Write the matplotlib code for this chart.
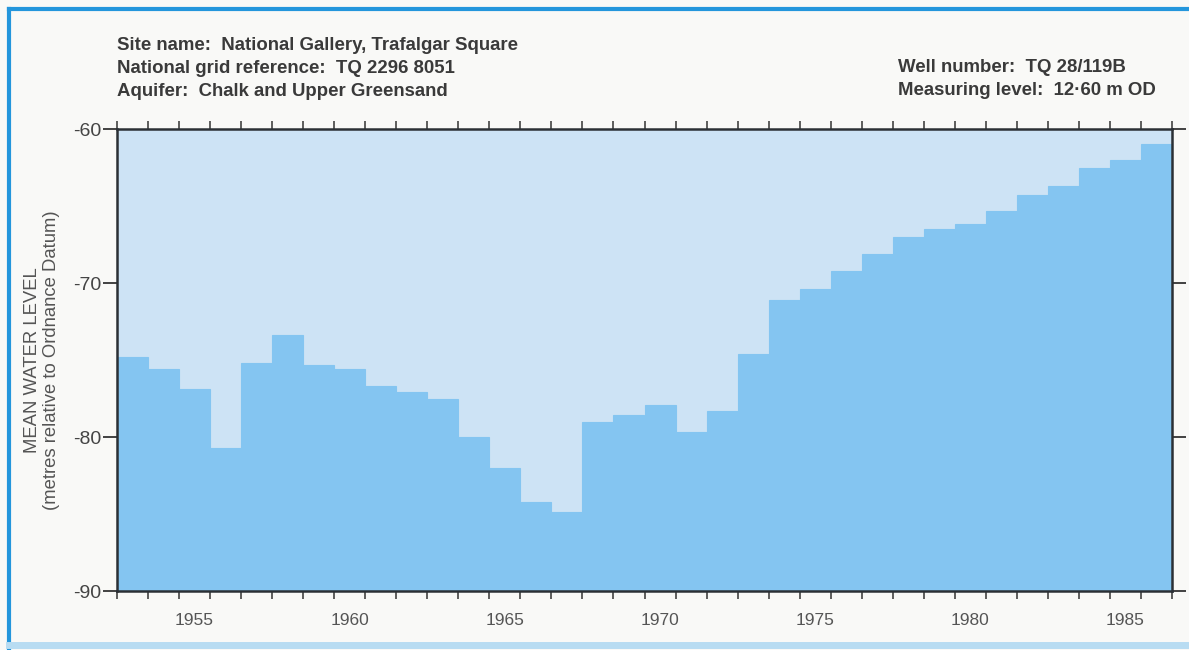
import numpy as np
import matplotlib.pyplot as plt
from matplotlib.lines import Line2D

# Annual mean water level, well TQ 28/119B (metres relative to OD)
years = np.arange(1953, 1987)
levels = [-74.8, -75.6, -76.9, -80.7, -75.2, -73.4, -75.3, -75.6, -76.7, -77.1,
          -77.5, -80.0, -82.0, -84.2, -84.9, -79.0, -78.6, -77.9, -79.7, -78.3,
          -74.6, -71.1, -70.4, -69.2, -68.1, -67.0, -66.5, -66.2, -65.3, -64.3,
          -63.7, -62.5, -62.0, -61.0]
year_labels = [1955, 1960, 1965, 1970, 1975, 1980, 1985]
level_ticks = [-60, -70, -80, -90]

header_left = ["Site name:  National Gallery, Trafalgar Square",
               "National grid reference:  TQ 2296 8051",
               "Aquifer:  Chalk and Upper Greensand"]
header_right = ["Well number:  TQ 28/119B",
                "Measuring level:  12\u00b760 m OD"]

plt.rcParams['font.family'] = ['Liberation Sans', 'DejaVu Sans']

fig = plt.figure(figsize=(11.89, 6.5), dpi=100)
fig.patch.set_facecolor('#f9f9f7')
ax = fig.add_axes([117/1189, 59/650, 1055/1189, 462/650])
ax.set_facecolor('#cde3f5')

floor = -90
bar_color = '#84c5f1'
ax.bar(years, np.array(levels) - floor, bottom=floor, width=1.0,
       color=bar_color, edgecolor=bar_color, linewidth=0.8, zorder=2)

ax.set_xlim(1952.5, 1986.5)
ax.set_ylim(-90, -60)

# year labels sit under the bar centres, ticks mark the year boundaries
ax.set_xticks(year_labels)
ax.set_xticklabels([str(y) for y in year_labels], fontsize=12.5, color='#555555')
ax.set_xticks(np.arange(1952.5, 1987.0, 1.0), minor=True)
ax.tick_params(axis='x', which='major', length=0, pad=16)
ax.tick_params(axis='x', which='minor', length=6, width=1.1, color='#333333',
               direction='out', top=True, bottom=True)

ax.set_yticks(level_ticks)
ax.set_yticklabels([str(v) for v in level_ticks], fontsize=14, color='#444444')
ax.tick_params(axis='y', which='major', length=10, width=1.3, color='#333333',
               direction='out', left=True, right=True, pad=1)

for side in ['left', 'right', 'top', 'bottom']:
    ax.spines[side].set_color('#2b3035')
    ax.spines[side].set_linewidth(1.8)
    ax.spines[side].set_zorder(3)

ax.set_ylabel("MEAN WATER LEVEL\n(metres relative to Ordnance Datum)",
              fontsize=13.3, color='#555555', linespacing=1.15, labelpad=10)

for i, line in enumerate(header_left):
    fig.text(117/1189, 1 - (46 + i*22.5)/650, line, fontsize=13.4, fontweight='bold',
             color='#3a3a3a', va='center', ha='left')
for i, line in enumerate(header_right):
    fig.text(898/1189, 1 - (68 + i*22.5)/650, line, fontsize=13.4, fontweight='bold',
             color='#3a3a3a', va='center', ha='left')

# blue page frame
fig.add_artist(Line2D([9/1189, 9/1189], [0, 1 - 9/650], transform=fig.transFigure,
                      color='#2496dc', linewidth=3))
fig.add_artist(Line2D([9/1189, 1], [1 - 9/650, 1 - 9/650], transform=fig.transFigure,
                      color='#2496dc', linewidth=3))
fig.add_artist(Line2D([9/1189, 1], [5/650, 5/650], transform=fig.transFigure,
                      color='#b8dcf2', linewidth=5))

fig.savefig('out.png', dpi=100, facecolor=fig.get_facecolor())
